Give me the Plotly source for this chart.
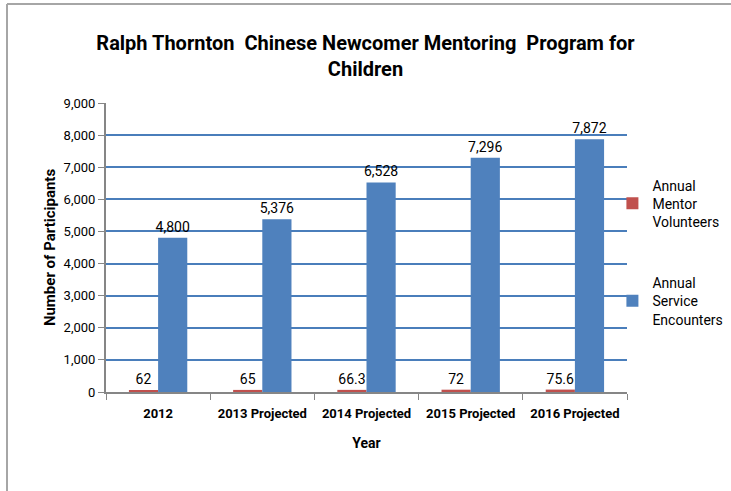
import plotly.graph_objects as go

years = ["2012", "2013 Projected", "2014 Projected", "2015 Projected", "2016 Projected"]
mentors = [62, 65, 66.3, 72, 75.6]
encounters = [4800, 5376, 6528, 7296, 7872]

mentor_labels = ["62", "65", "66.3", "72", "75.6"]
encounter_labels = ["4,800", "5,376", "6,528", "7,296", "7,872"]

W, H = 731, 491
ML, MR, MT, MB = 106, 104, 103, 99
FONT = "Roboto, sans-serif"

fig = go.Figure()
fig.add_trace(go.Bar(
    x=years, y=mentors, name="Annual<br>Mentor<br>Volunteers",
    marker=dict(color="#c0504d", line=dict(width=0)),
    text=mentor_labels, textposition="outside", cliponaxis=False,
    textfont=dict(size=14, color="#000000", family=FONT),
    legendgroup="a",
))
fig.add_trace(go.Bar(
    x=years, y=encounters, name="Annual<br>Service<br>Encounters",
    marker=dict(color="#4f81bd", line=dict(width=0)),
    text=encounter_labels, textposition="outside", cliponaxis=False,
    textfont=dict(size=14, color="#000000", family=FONT),
    legendgroup="b",
))

# chart-area border (top and left edges only, as in the original)
pw = W - ML - MR
ph = H - MT - MB
bx = (7 - ML) / pw
by = (H - MB - 4) / ph
fig.add_shape(type="line", xref="paper", yref="paper", x0=bx, x1=(W - ML) / pw, y0=by, y1=by,
              line=dict(color="#a6a6a6", width=2))
fig.add_shape(type="line", xref="paper", yref="paper", x0=bx, x1=bx, y0=by, y1=-MB / ph,
              line=dict(color="#a6a6a6", width=2))

fig.update_layout(
    width=W, height=H,
    margin=dict(l=ML, r=MR, t=MT, b=MB, autoexpand=False),
    paper_bgcolor="white", plot_bgcolor="white",
    font=dict(family=FONT, size=13, color="#000000"),
    uniformtext=dict(minsize=13, mode="show"),
    title=dict(
        text="<b>Ralph Thornton  Chinese Newcomer Mentoring  Program for<br>Children</b>",
        x=0.5, xanchor="center", y=0.899, yanchor="middle",
        font=dict(size=20, family=FONT, color="#000000"),
    ),
    barmode="group", bargap=0.44, bargroupgap=0,
    showlegend=True,
    legend=dict(
        x=0.972, xanchor="left", y=0.77, yanchor="top",
        font=dict(size=14, family=FONT), traceorder="grouped", tracegroupgap=40,
        itemwidth=30, bgcolor="rgba(0,0,0,0)",
    ),
    xaxis=dict(
        title=dict(text="<b>Year</b>", font=dict(size=14, family=FONT), standoff=19),
        tickfont=dict(size=13, family=FONT), tickangle=0,
        tickprefix="<b>", ticksuffix="</b>", ticklabelstandoff=8,
        showline=True, linecolor="#868686", linewidth=2,
        ticks="outside", ticklen=6, tickcolor="#868686", tickson="boundaries",
        showgrid=False, automargin=False,
    ),
    yaxis=dict(
        title=dict(text="<b>Number of Participants</b>", font=dict(size=15, family=FONT), standoff=4),
        range=[0, 9000], dtick=1000, tickformat=",d",
        tickfont=dict(size=13, family=FONT),
        showline=True, linecolor="#868686", linewidth=2,
        ticks="outside", ticklen=6, tickcolor="#868686",
        showgrid=True, gridcolor="#4a7ebb", gridwidth=1.5,
        zeroline=False, automargin=False,
    ),
)

fig.write_html("out.html", config={"displayModeBar": False},
               post_script="document.body.style.margin='0';")
